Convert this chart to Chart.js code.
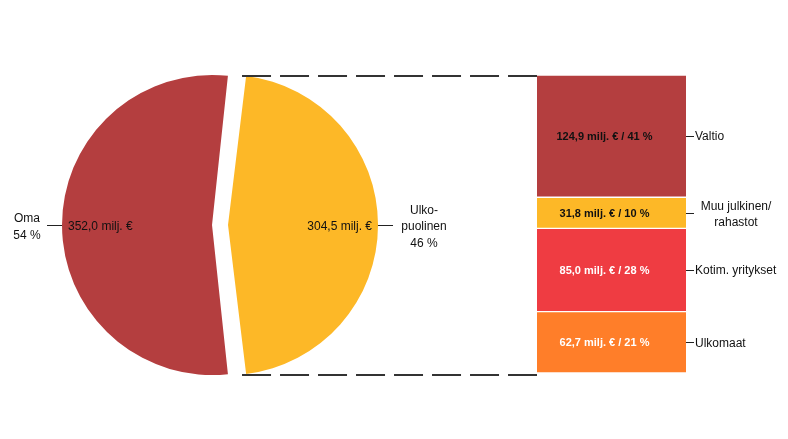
<!DOCTYPE html>
<html lang="fi">
<head>
  <meta charset="UTF-8">
  <title>Rahoitus</title>
  <script src="https://cdn.jsdelivr.net/npm/chart.js@4.4.0/dist/chart.umd.min.js"></script>
  <style>
    html, body { margin: 0; padding: 0; background: #fff; }
    .wrap { position: relative; width: 788px; height: 439px; }
    .wrap canvas { position: absolute; left: 0; top: 0; }
  </style>
</head>
<body>
  <div class="wrap">
    <canvas id="pie" width="788" height="439"></canvas>
    <canvas id="bar" width="788" height="439"></canvas>
  </div>
  <script>
    // pie: own vs. outside funding (milj. €)
    const pieLabels = ['Ulkopuolinen', 'Oma'];
    const pieValues = [304.5, 352.0];
    const pieOuter = [['Ulko-', 'puolinen', '46 %'], ['Oma', '54 %']];
    const pieInner = ['304,5 milj. €', '352,0 milj. €'];
    const pieColors = ['#FDB827', '#B43E3F'];

    // bar: breakdown of outside funding, top to bottom
    const barLabels = [['Valtio'], ['Muu julkinen/', 'rahastot'], ['Kotim. yritykset'], ['Ulkomaat']];
    const barValues = [124.9, 31.8, 85.0, 62.7];
    const barPercents = ['41 %', '10 %', '28 %', '21 %'];
    const barColors = ['#B43E3F', '#FDB827', '#EF3C42', '#FF7E29'];
    const barTextColors = ['#111', '#111', '#fff', '#fff'];

    const fmt = v => v.toFixed(1).replace('.', ',');
    const FONT = '12px "Liberation Sans", Arial, sans-serif';

    // centre the outside slice on the right-hand side
    const pieTotal = pieValues.reduce((a, b) => a + b, 0);
    const pieRotation = 90 - (pieValues[0] / pieTotal) * 180;

    // Chart.js moves an arc by offset/4 and grows it by offset/4 * fix,
    // fix = 1 - sin(min(PI, circumference)). Pick offsets so both slices
    // look equally big and sit GAP px apart.
    const VIS_R = 150, GAP = 16;
    const circs = pieValues.map(v => 2 * Math.PI * v / pieTotal);
    const fixes = circs.map(c => 1 - Math.sin(Math.min(Math.PI, c)));
    const sOma = GAP / (1 + fixes[1] / fixes[0]);
    const shifts = [sOma * fixes[1] / fixes[0], sOma];
    const baseR = VIS_R - sOma * fixes[1];

    const piePlugin = {
      id: 'pieLabels',
      afterDraw(chart) {
        const ctx = chart.ctx;
        const arcs = chart.getDatasetMeta(0).data;
        ctx.save();
        ctx.font = FONT;
        ctx.fillStyle = '#111';
        ctx.strokeStyle = '#222';
        ctx.lineWidth = 1;
        arcs.forEach((arc, i) => {
          const mid = (arc.startAngle + arc.endAngle) / 2;
          const dir = Math.cos(mid) >= 0 ? 1 : -1;
          const cx = arc.x + dir * shifts[i];
          const cy = arc.y;
          const edge = cx + dir * VIS_R;
          // inside value
          ctx.textBaseline = 'middle';
          ctx.textAlign = dir > 0 ? 'right' : 'left';
          ctx.fillText(pieInner[i], edge - dir * 6, cy + 2);
          // connector
          ctx.beginPath();
          ctx.moveTo(edge, cy + 0.5);
          ctx.lineTo(edge + dir * 15, cy + 0.5);
          ctx.stroke();
          // outside label
          const lines = pieOuter[i];
          const tx = dir > 0 ? edge + 46 : edge - 35;
          ctx.textAlign = 'center';
          const lh = 16.5;
          const y0 = cy + 2 - (lines.length - 1) * lh / 2;
          lines.forEach((t, k) => ctx.fillText(t, tx, y0 + k * lh));
        });
        ctx.restore();
      }
    };

    const pieChart = new Chart(document.getElementById('pie'), {
      type: 'pie',
      data: {
        labels: pieLabels,
        datasets: [{
          data: pieValues,
          backgroundColor: pieColors,
          borderWidth: 0,
          offset: shifts.map(s => s * 4),
          hoverOffset: 0,
          radius: baseR
        }]
      },
      options: {
        responsive: false,
        animation: false,
        rotation: pieRotation,
        layout: { padding: { left: 0, right: 350, top: 11, bottom: 0 } },
        plugins: { legend: { display: false }, tooltip: { enabled: false } },
        events: []
      },
      plugins: [piePlugin]
    });

    const barPlugin = {
      id: 'barLabels',
      afterDraw(chart) {
        const ctx = chart.ctx;
        ctx.save();
        const bars = chart.data.datasets.map((d, i) => chart.getDatasetMeta(i).data[0]);
        const left = bars[0].x - bars[0].width / 2;
        const right = bars[0].x + bars[0].width / 2;
        bars.forEach((b, i) => {
          const mid = (b.y + b.base) / 2;
          ctx.font = 'bold 11px "Liberation Sans", Arial, sans-serif';
          ctx.fillStyle = barTextColors[i];
          ctx.textAlign = 'center';
          ctx.textBaseline = 'middle';
          ctx.fillText(fmt(barValues[i]) + ' milj. € / ' + barPercents[i], b.x - 7, mid + 1);
          // tick + label
          ctx.strokeStyle = '#222';
          ctx.lineWidth = 1;
          ctx.beginPath();
          ctx.moveTo(right, Math.round(mid) + 0.5);
          ctx.lineTo(right + 8, Math.round(mid) + 0.5);
          ctx.stroke();
          ctx.font = FONT;
          ctx.fillStyle = '#111';
          const lines = barLabels[i];
          if (lines.length === 1) {
            ctx.textAlign = 'left';
            ctx.fillText(lines[0], right + 9, mid + 1);
          } else {
            ctx.textAlign = 'center';
            ctx.fillText(lines[0], right + 50, mid - 6);
            ctx.fillText(lines[1], right + 50, mid + 10);
          }
        });
        // dashed connectors from the outside slice to the bar
        const arc = pieChart.getDatasetMeta(0).data[0];
        const sx = arc.x + shifts[0] + VIS_R * Math.cos(arc.startAngle);
        const top = Math.min(bars[0].y, bars[0].base);
        const last = bars[bars.length - 1];
        const bottom = Math.max(last.y, last.base);
        ctx.strokeStyle = '#333';
        ctx.lineWidth = 2;
        ctx.setLineDash([29, 9]);
        ctx.beginPath();
        ctx.moveTo(sx - 3, top + 1);
        ctx.lineTo(left, top + 1);
        ctx.moveTo(sx - 3, bottom + 2);
        ctx.lineTo(left, bottom + 2);
        ctx.stroke();
        ctx.restore();
      }
    };

    new Chart(document.getElementById('bar'), {
      type: 'bar',
      data: {
        labels: ['Ulkopuolinen'],
        datasets: barValues.map((v, i) => ({
          label: barLabels[i].join(' '),
          data: [v],
          backgroundColor: barColors[i],
          borderColor: '#fff',
          borderWidth: { top: 1, bottom: 1, left: 0, right: 0 },
          borderSkipped: false,
          barPercentage: 1,
          categoryPercentage: 1
        }))
      },
      options: {
        responsive: false,
        animation: false,
        layout: { padding: { left: 537, right: 102, top: 75, bottom: 66 } },
        scales: {
          x: { stacked: true, display: false },
          y: { stacked: true, display: false, reverse: true, min: 0, max: barValues.reduce((a, b) => a + b, 0) }
        },
        plugins: { legend: { display: false }, tooltip: { enabled: false } },
        events: []
      },
      plugins: [barPlugin]
    });
  </script>
</body>
</html>
